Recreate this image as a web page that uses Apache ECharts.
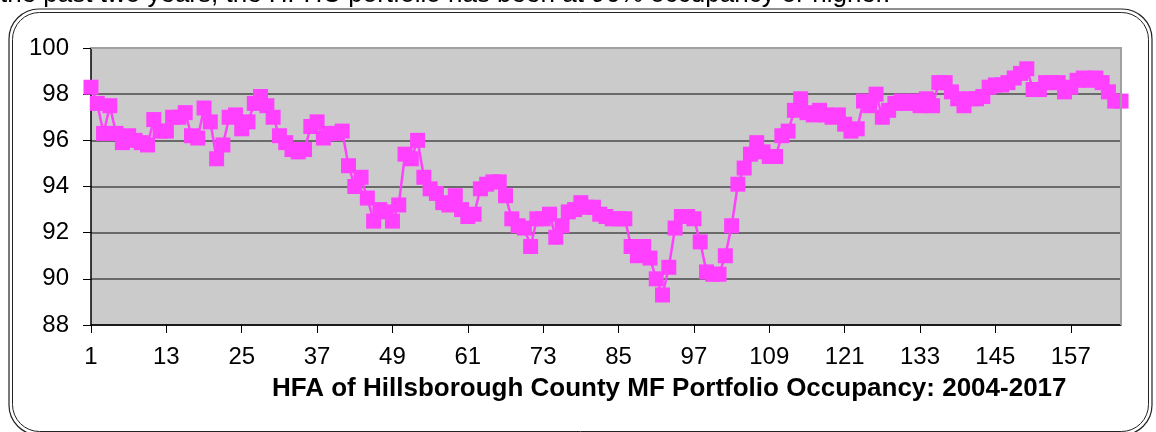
<!DOCTYPE html>
<html>
<head>
<meta charset="utf-8">
<script src="https://cdn.jsdelivr.net/npm/echarts@6/dist/echarts.min.js"></script>
<style>
  html, body { margin: 0; padding: 0; background: #fff; }
  #main { width: 1156px; height: 432px; }
</style>
</head>
<body>
<div id="main"></div>
<script>
// month index 1..165
const months = [];
for (let i = 1; i <= 165; i++) months.push(String(i));

// occupancy %
const occupancy = [
  98.3, 97.6, 96.3, 97.5, 96.3, 95.9, 96.2, 96.0, 95.9, 95.8,
  96.9, 96.4, 96.4, 97.0, 97.0, 97.2, 96.2, 96.1, 97.4, 96.8,
  95.2, 95.8, 97.0, 97.1, 96.5, 96.8, 97.6, 97.9, 97.5, 97.0,
  96.2, 95.9, 95.6, 95.5, 95.6, 96.6, 96.8, 96.1, 96.3, 96.3,
  96.4, 94.9, 94.0, 94.4, 93.5, 92.5, 93.0, 92.9, 92.5, 93.2,
  95.4, 95.2, 96.0, 94.4, 93.9, 93.7, 93.3, 93.2, 93.6, 93.0,
  92.7, 92.8, 93.9, 94.1, 94.2, 94.2, 93.6, 92.6, 92.3, 92.2,
  91.4, 92.6, 92.6, 92.8, 91.8, 92.3, 92.9, 93.0, 93.3, 93.1,
  93.1, 92.8, 92.7, 92.6, 92.6, 92.6, 91.4, 91.0, 91.4, 90.9,
  90.0, 89.3, 90.5, 92.2, 92.7, 92.7, 92.6, 91.6, 90.3, 90.2,
  90.2, 91.0, 92.3, 94.1, 94.8, 95.4, 95.9, 95.5, 95.3, 95.3,
  96.2, 96.4, 97.3, 97.8, 97.2, 97.1, 97.3, 97.1, 97.0, 97.1,
  96.7, 96.4, 96.5, 97.7, 97.5, 98.0, 97.0, 97.3, 97.6, 97.7,
  97.6, 97.7, 97.5, 97.8, 97.5, 98.5, 98.5, 98.1, 97.8, 97.5,
  97.8, 97.8, 97.9, 98.3, 98.4, 98.4, 98.5, 98.7, 98.9, 99.1,
  98.2, 98.2, 98.5, 98.5, 98.5, 98.1, 98.3, 98.6, 98.7, 98.6,
  98.7, 98.5, 98.1, 97.7, 97.7
];

const yMin = 88, yMax = 100, yStep = 2;

const chart = echarts.init(document.getElementById('main'), null, { renderer: 'canvas' });

const option = {
  animation: false,
  backgroundColor: '#ffffff',
  title: {
    text: 'HFA of Hillsborough County MF Portfolio Occupancy: 2004-2017',
    left: 267,
    top: 371,
    textStyle: { fontFamily: 'Liberation Sans', fontSize: 26, fontWeight: 'bold', color: '#000' }
  },
  graphic: [
    // cut-off sentence above the frame
    { type: 'text', left: 0, top: -18,
      style: { text: 'the past two years, the HFHC portfolio has been at 96% occupancy or higher.',
               font: '26px "Liberation Sans"', fill: '#000' } },
    // double rounded frame
    { type: 'rect', shape: { x: 9, y: 9, width: 1143, height: 426, r: 30 },
      style: { fill: 'none', stroke: '#222', lineWidth: 1.2 } },
    { type: 'rect', shape: { x: 12.5, y: 12.5, width: 1136, height: 419, r: 27 },
      style: { fill: 'none', stroke: '#222', lineWidth: 1 } },
    // plot outline on top and right
    { type: 'polyline', shape: { points: [[91, 48], [1121, 48], [1121, 325]] },
      style: { fill: 'none', stroke: '#a0a0a0', lineWidth: 2 }, z: 5 }
  ],
  grid: {
    left: 91, right: 35, top: 48, bottom: 107,
    show: true, backgroundColor: '#cbcbcb', borderWidth: 0
  },
  xAxis: {
    type: 'category',
    data: months,
    boundaryGap: false,
    axisLine: { lineStyle: { color: '#000', width: 1.5 } },
    axisTick: { show: true, interval: 11, length: 8, lineStyle: { color: '#000' } },
    axisLabel: { interval: 11, margin: 20, color: '#000', fontSize: 24, fontFamily: 'Liberation Sans' },
    splitLine: { show: false }
  },
  yAxis: {
    type: 'value',
    min: yMin, max: yMax, interval: yStep,
    axisLine: { show: true, lineStyle: { color: '#000', width: 1.5 } },
    axisTick: { show: true, length: 8, lineStyle: { color: '#000' } },
    axisLabel: { margin: 22, color: '#000', fontSize: 24, fontFamily: 'Liberation Sans' },
    splitLine: { lineStyle: { color: '#4a4a4a', width: 1.5 } }
  },
  series: [{
    type: 'line',
    data: occupancy,
    symbol: 'rect',
    symbolSize: 15,
    showAllSymbol: true,
    itemStyle: { color: '#ff40ff' },
    lineStyle: { color: '#ff40ff', width: 2.5 }
  }]
};

chart.setOption(option);
</script>
</body>
</html>
